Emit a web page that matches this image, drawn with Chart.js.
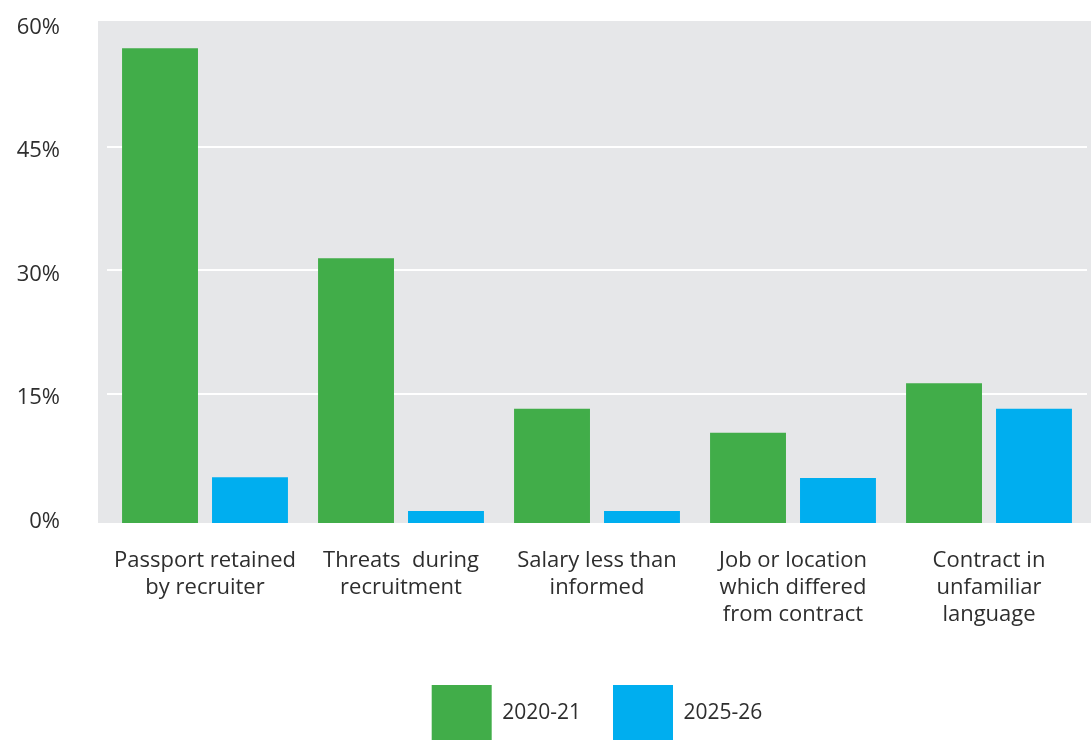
<!DOCTYPE html>
<html>
<head>
<meta charset="utf-8">
<script src="https://cdn.jsdelivr.net/npm/chart.js@4/dist/chart.umd.min.js"></script>
<style>
  html, body { margin: 0; padding: 0; background: #fff; }
  #wrap { width: 1091px; height: 740px; }
</style>
</head>
<body>
<div id="wrap"><canvas id="issuesChart"></canvas></div>
<script>
const categories = [
    ["Passport retained", "by recruiter"],
    ["Threats  during", "recruitment"],
    ["Salary less than", "informed"],
    ["Job or location", "which differed", "from contract"],
    ["Contract in", "unfamiliar", "language"]
];
const values2020 = [57.0, 31.5, 13.2, 10.3, 16.3];
const values2025 = [4.9, 0.8, 0.8, 4.8, 13.2];
const yTicks = [0, 15, 30, 45, 60];

const yMin = -0.67;
const yMax = 60.3;
const textColor = "#2e2e2e";
const fontFamily = "'Open Sans', Lato, sans-serif";

// grey panel behind the bars, a little wider than the category area
const panelBackground = {
    id: "panelBackground",
    beforeDraw(chart) {
        const { ctx, chartArea } = chart;
        ctx.save();
        ctx.fillStyle = "#E6E7E9";
        ctx.fillRect(chartArea.left - 9, chartArea.top,
            chartArea.right - chartArea.left + 13, chartArea.bottom - chartArea.top);
        ctx.restore();
    }
};

function noScalePadding(scale) {
    scale.paddingTop = 0;
    scale.paddingBottom = 0;
    scale.paddingLeft = 0;
    scale.paddingRight = 0;
}

const ctx = document.getElementById("issuesChart").getContext("2d");

new Chart(ctx, {
    type: "bar",
    data: {
        labels: categories,
        datasets: [{
            label: "2020-21",
            data: values2020,
            backgroundColor: "#41AD49",
            base: yMin,
            categoryPercentage: 0.918,
            barPercentage: 0.844
        }, {
            label: "2025-26",
            data: values2025,
            backgroundColor: "#00AEEF",
            base: yMin,
            categoryPercentage: 0.918,
            barPercentage: 0.844
        }]
    },
    options: {
        responsive: true,
        maintainAspectRatio: false,
        animation: false,
        layout: {
            padding: { top: 21, right: 4, bottom: -11, left: 0 }
        },
        plugins: {
            tooltip: { enabled: false },
            legend: {
                position: "bottom",
                fullSize: false,
                labels: {
                    boxWidth: 60,
                    boxHeight: 56,
                    padding: 32,
                    color: textColor,
                    font: { family: fontFamily, size: 21 }
                }
            }
        },
        scales: {
            x: {
                grid: { display: false },
                border: { display: false },
                ticks: {
                    color: textColor,
                    font: { family: fontFamily, size: 22, lineHeight: 1.23 },
                    maxRotation: 0,
                    autoSkip: false,
                    padding: 16
                },
                afterFit(scale) {
                    scale.height = 130;
                    noScalePadding(scale);
                }
            },
            y: {
                min: yMin,
                max: yMax,
                border: { display: false },
                grid: {
                    drawTicks: false,
                    lineWidth: 2,
                    color: c => (c.tick && c.tick.value > 0 && c.tick.value < 60) ? "#FFFFFF" : "rgba(0,0,0,0)"
                },
                afterBuildTicks(scale) {
                    scale.ticks = yTicks.map(v => ({ value: v }));
                },
                ticks: {
                    color: textColor,
                    font: { family: fontFamily, size: 22 },
                    padding: 47,
                    labelOffset: 4,
                    callback: v => v + "%"
                },
                afterFit(scale) {
                    scale.width = 107;
                    noScalePadding(scale);
                }
            }
        }
    },
    plugins: [panelBackground]
});
</script>
</body>
</html>
